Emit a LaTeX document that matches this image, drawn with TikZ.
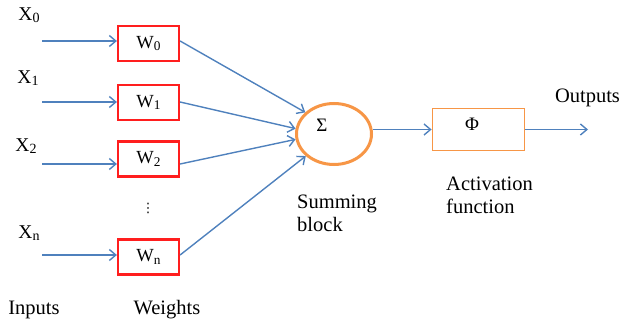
\documentclass[tikz,border=0pt]{standalone}
\usepackage{fontspec}
\usepackage{graphicx}
\setmainfont{Liberation Serif}
\newfontfamily\dejavu{DejaVu Sans}
\usetikzlibrary{arrows.meta,shapes.geometric}
\definecolor{lineblue}{RGB}{79,129,189}
\definecolor{boxred}{RGB}{255,30,30}
\definecolor{sumorange}{RGB}{247,150,70}
\newcommand{\lowsub}[1]{\raisebox{-0.12em}{\scalebox{0.72}{#1}}}
\begin{document}
\begin{tikzpicture}[x=1pt,y=-1pt,
  arr/.style={draw=lineblue,line width=1.4pt,-{Straight Barb[length=6.5pt,width=11pt,line width=1.4pt]}},
  wbox/.style={draw=boxred,line width=2.2pt,minimum width=61pt,minimum height=35pt,inner sep=0pt,font=\fontsize{18.5}{21}\selectfont},
  xlab/.style={font=\fontsize{19.5}{22}\selectfont,inner sep=0pt},
  lab/.style={font=\fontsize{20.5}{23}\selectfont,inner sep=0pt,align=left},
  sym/.style={inner sep=0pt,font=\fontsize{19}{21}\selectfont},
  sumnode/.style={ellipse,draw=sumorange,line width=3pt,minimum width=75pt,minimum height=61pt,inner sep=0pt},
  phibox/.style={draw=sumorange,line width=1.8pt,minimum width=92pt,minimum height=42pt,inner sep=0pt}
]
\useasboundingbox (0,0) rectangle (622,329);
% inputs labels
\node[xlab] (x0) at (29,15) {X\lowsub{0}};
\node[xlab] (x1) at (28,78) {X\lowsub{1}};
\node[xlab] (x2) at (26,146) {X\lowsub{2}};
\node[xlab] (xn) at (29,233) {X\lowsub{n}};
% weight boxes
\node[wbox] (w0) at (148.5,43.5) {W\lowsub{0}};
\node[wbox] (w1) at (148.5,102.5) {W\lowsub{1}};
\node[wbox] (w2) at (148.5,159) {W\lowsub{2}};
\node[wbox] (wn) at (148.5,257) {W\lowsub{n}};
\node[inner sep=0pt,font=\dejavu\fontsize{13}{15}\selectfont] (dots) at (148,208) {⋮};
% start coordinates
\coordinate (s0) at (42,41);
\coordinate (s1) at (42,102);
\coordinate (s2) at (42,164);
\coordinate (sn) at (42,255);
\draw[arr] (s0) -- (s0 -| w0.west);
\draw[arr] (s1) -- (s1 -| w1.west);
\draw[arr] (s2) -- (s2 -| w2.west);
\draw[arr] (sn) -- (sn -| wn.west);
% summing node
\node[sumnode] (sum) at (334,134) {};
\node[sym] (sigma) at (322,125) {Σ};
\draw[arr] (s0 -| w0.east) -- (sum.143);
\draw[arr] (s1 -| w1.east) -- (sum.172);
\draw[arr] (s2 -| w2.east) -- (sum.188);
\draw[arr] (sn -| wn.east) -- (sum.218);
% activation
\node[phibox] (phi) at (478.5,129.5) {};
\node[sym] (phisym) at (472,124.5) {Φ};
\draw[arr] (sum.east |- phi.west) -- (phi.west);
\coordinate (out) at (588,129.5);
\draw[arr] (phi.east) -- (out);
% labels
\node[lab] (outputs) at (587.5,98) {Outputs};
\node[lab,anchor=west] (act) at (446,195.5) {Activation\\function};
\node[lab,anchor=west] (summ) at (297,213.5) {Summing\\block};
\node[lab] (inputs) at (34,310) {Inputs};
\node[lab] (weights) at (167,310) {Weights};
\end{tikzpicture}
\end{document}
